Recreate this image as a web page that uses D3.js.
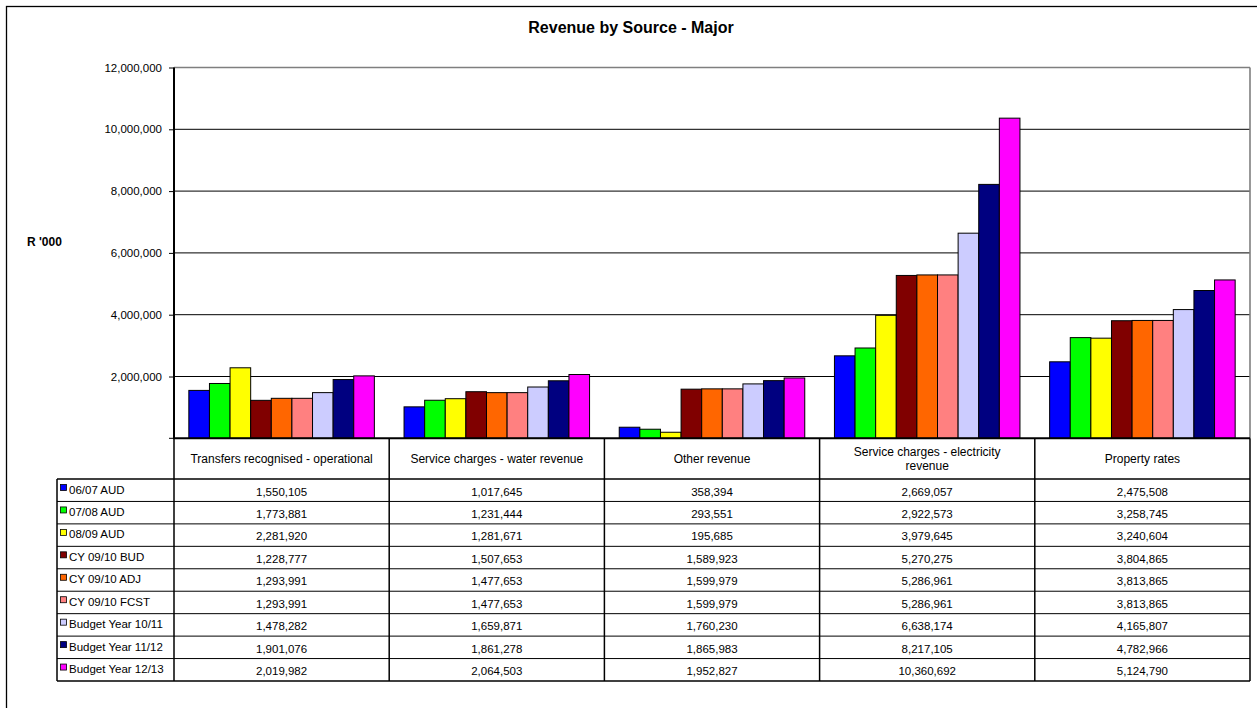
<!DOCTYPE html>
<html>
<head>
<meta charset="utf-8">
<script src="https://cdn.jsdelivr.net/npm/d3@7"></script>
<style>
  html, body { margin: 0; padding: 0; background: #fff; }
  svg { display: block; font-family: "Liberation Sans", Arial, sans-serif; }
</style>
</head>
<body>
<svg id="chart" width="1257" height="708"></svg>
<script>
// Revenue categories (x axis / table columns)
const categories = [
  ["Transfers recognised - operational"],
  ["Service charges - water revenue"],
  ["Other revenue"],
  ["Service charges - electricity", "revenue"],
  ["Property rates"]
];
const categoryKeys = ["transfers", "water", "other", "electricity", "rates"];

// Series (budget years) and their colours
const seriesNames = [
  "06/07 AUD", "07/08 AUD", "08/09 AUD", "CY 09/10 BUD", "CY  09/10 ADJ",
  "CY 09/10 FCST", "Budget Year 10/11", "Budget Year  11/12", "Budget Year 12/13"
];
const seriesColors = [
  "#0000FF", "#00FF00", "#FFFF00", "#800000", "#FF6600",
  "#FF8080", "#CCCCFF", "#000080", "#FF00FF"
];

// Values in R'000, one array per series, ordered as categories
const aud0607   = [1550105, 1017645, 358394, 2669057, 2475508];
const aud0708   = [1773881, 1231444, 293551, 2922573, 3258745];
const aud0809   = [2281920, 1281671, 195685, 3979645, 3240604];
const bud0910   = [1228777, 1507653, 1589923, 5270275, 3804865];
const adj0910   = [1293991, 1477653, 1599979, 5286961, 3813865];
const fcst0910  = [1293991, 1477653, 1599979, 5286961, 3813865];
const budget1011 = [1478282, 1659871, 1760230, 6638174, 4165807];
const budget1112 = [1901076, 1861278, 1865983, 8217105, 4782966];
const budget1213 = [2019982, 2064503, 1952827, 10360692, 5124790];
const seriesValues = [aud0607, aud0708, aud0809, bud0910, adj0910, fcst0910, budget1011, budget1112, budget1213];

// Y axis ticks
const yTicks = [2000000, 4000000, 6000000, 8000000, 10000000, 12000000];

const svg = d3.select("#chart");
const fmt = d3.format(",");

// Outer frame (runs off the right and bottom)
svg.append("rect")
  .attr("x", 6.5).attr("y", 6.5)
  .attr("width", 1262).attr("height", 720)
  .attr("fill", "none").attr("stroke", "#000").attr("stroke-width", 1.3);

// Title
svg.append("text")
  .attr("x", 631).attr("y", 33)
  .attr("text-anchor", "middle")
  .attr("font-size", 16).attr("font-weight", "bold")
  .text("Revenue by Source - Major");

// Axis label
svg.append("text")
  .attr("x", 27).attr("y", 246)
  .attr("font-size", 12).attr("font-weight", "bold")
  .text("R '000");

const plot = { left: 174, right: 1250, top: 67.5, bottom: 438.3 };

const x = d3.scaleBand()
  .domain(categoryKeys)
  .range([plot.left, plot.right]);

const xInner = d3.scaleBand()
  .domain(d3.range(seriesNames.length))
  .range([0, x.bandwidth()])
  .paddingOuter(0.72)
  .paddingInner(0);

const y = d3.scaleLinear()
  .domain([0, 12000000])
  .range([plot.bottom, plot.top]);

// Gridlines
svg.append("g")
  .selectAll("line")
  .data(yTicks)
  .join("line")
  .attr("x1", plot.left).attr("x2", plot.right)
  .attr("y1", d => y(d)).attr("y2", d => y(d))
  .attr("stroke", d => d === 12000000 ? "#7f7f7f" : "#000")
  .attr("stroke-width", d => d === 12000000 ? 1.6 : 1);

// Right plot edge
svg.append("line")
  .attr("x1", plot.right).attr("x2", plot.right)
  .attr("y1", plot.top).attr("y2", plot.bottom)
  .attr("stroke", "#7f7f7f").attr("stroke-width", 1.6);

// Y axis
const yAxis = d3.axisLeft(y)
  .tickValues(yTicks)
  .tickFormat(fmt)
  .tickSize(5)
  .tickPadding(7);
const yAxisG = svg.append("g")
  .attr("transform", `translate(${plot.left},0)`)
  .call(yAxis);
yAxisG.select(".domain").remove();
yAxisG.selectAll(".tick line").attr("stroke", "#000");
yAxisG.selectAll(".tick text")
  .attr("font-family", "Liberation Sans, Arial, sans-serif")
  .attr("font-size", 11.5).attr("fill", "#000");
svg.append("line")
  .attr("x1", plot.left).attr("x2", plot.left - 5)
  .attr("y1", plot.bottom).attr("y2", plot.bottom)
  .attr("stroke", "#000");

// Bars
const groups = svg.append("g")
  .selectAll("g")
  .data(categoryKeys)
  .join("g")
  .attr("transform", d => `translate(${x(d)},0)`);

groups.selectAll("rect")
  .data((d, ci) => seriesValues.map((vals, si) => ({ si, v: vals[ci] })))
  .join("rect")
  .attr("x", d => xInner(d.si))
  .attr("width", xInner.bandwidth())
  .attr("y", d => y(d.v))
  .attr("height", d => plot.bottom - y(d.v))
  .attr("fill", d => seriesColors[d.si])
  .attr("stroke", "#000")
  .attr("stroke-width", 1);

// Y axis line (drawn on top)
svg.append("line")
  .attr("x1", plot.left).attr("x2", plot.left)
  .attr("y1", plot.top).attr("y2", plot.bottom)
  .attr("stroke", "#000").attr("stroke-width", 2);

// Data table
const headerTop = plot.bottom, headerBottom = 479;
const rowH = (681 - headerBottom) / seriesNames.length;
const legendLeft = 57;
const tableBottom = headerBottom + rowH * seriesNames.length;
const table = svg.append("g");

// Header text (category names)
categoryKeys.forEach((k, ci) => {
  const lines = categories[ci];
  const cx = x(k) + x.bandwidth() / 2;
  const cy = (headerTop + headerBottom) / 2;
  lines.forEach((ln, li) => {
    table.append("text")
      .attr("x", cx)
      .attr("y", cy + 4.5 + (li - (lines.length - 1) / 2) * 13.5)
      .attr("text-anchor", "middle")
      .attr("font-size", 12)
      .text(ln);
  });
});

// Row horizontal lines
d3.range(seriesNames.length + 1).forEach(i => {
  const yy = headerBottom + i * rowH;
  table.append("line")
    .attr("x1", legendLeft).attr("x2", plot.right)
    .attr("y1", yy).attr("y2", yy)
    .attr("stroke", "#000").attr("stroke-width", i === 0 || i === seriesNames.length ? 1.6 : 1);
});

// Column vertical lines
categoryKeys.forEach(k => {
  table.append("line")
    .attr("x1", x(k)).attr("x2", x(k))
    .attr("y1", headerTop).attr("y2", tableBottom)
    .attr("stroke", "#000").attr("stroke-width", 1.5);
});
table.append("line")
  .attr("x1", plot.right).attr("x2", plot.right)
  .attr("y1", headerTop).attr("y2", tableBottom)
  .attr("stroke", "#000").attr("stroke-width", 1.5);
table.append("line")
  .attr("x1", legendLeft).attr("x2", legendLeft)
  .attr("y1", headerBottom).attr("y2", tableBottom)
  .attr("stroke", "#000").attr("stroke-width", 1.5);

// X axis (table top edge)
svg.append("line")
  .attr("x1", plot.left - 1).attr("x2", plot.right)
  .attr("y1", plot.bottom).attr("y2", plot.bottom)
  .attr("stroke", "#000").attr("stroke-width", 2);

// Legend keys and row values
seriesNames.forEach((name, si) => {
  const top = headerBottom + si * rowH;
  table.append("rect")
    .attr("x", legendLeft + 3.5).attr("y", top + 5.5)
    .attr("width", 6).attr("height", 6)
    .attr("fill", seriesColors[si])
    .attr("stroke", "#000").attr("stroke-width", 0.8);
  table.append("text")
    .attr("x", legendLeft + 12).attr("y", top + 14.5)
    .attr("font-size", 11.5)
    .text(name);
  categoryKeys.forEach((k, ci) => {
    table.append("text")
      .attr("x", x(k) + x.bandwidth() / 2)
      .attr("y", top + 16.5)
      .attr("text-anchor", "middle")
      .attr("font-size", 11.5)
      .text(fmt(seriesValues[si][ci]));
  });
});
</script>
</body>
</html>
